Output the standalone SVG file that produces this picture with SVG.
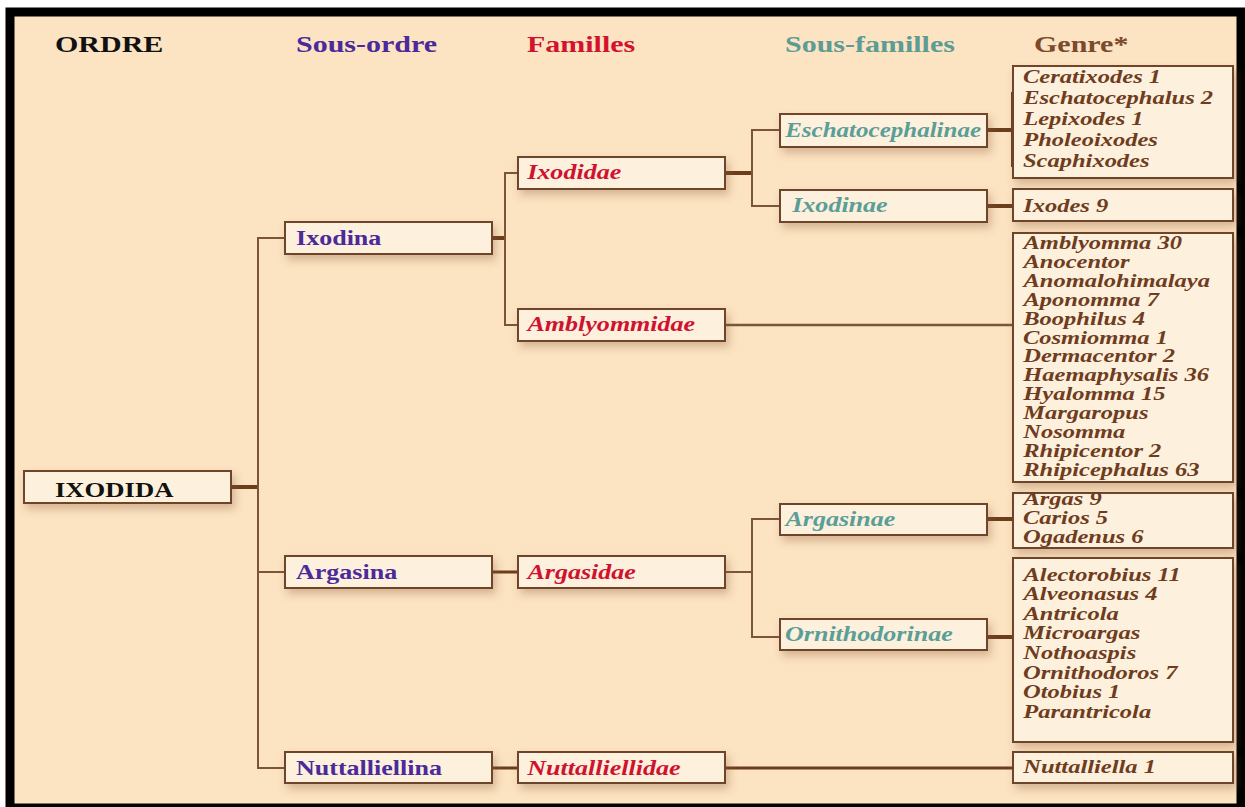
<svg xmlns="http://www.w3.org/2000/svg" width="1245" height="807" viewBox="0 0 1245 807">
<defs>
<filter id="sh" x="-10%" y="-30%" width="125%" height="180%">
<feDropShadow dx="3" dy="5" stdDeviation="4" flood-color="#8a5a30" flood-opacity="0.35"/>
</filter>
</defs>
<style>
text{font-family:"Liberation Serif","Times New Roman",serif;font-weight:bold;transform-box:fill-box;transform-origin:0 50%;transform:scaleX(1.25)}
.box{fill:#fdf0dc;stroke:#6e4529;stroke-width:2;filter:url(#sh)}
.thin{stroke:#7b5536;stroke-width:2;fill:none}
.thick{stroke:#6b3d1c;stroke-width:4;fill:none}
.hd{font-size:24px}
.n{font-size:20.5px;transform:scaleX(1.27)}
.ord{fill:#111}
.so{fill:#4b2a9b}
.fa{fill:#cf1230;font-style:italic}
.sf{fill:#5b9e97;font-style:italic}
.ge{fill:#6e3c1e;font-style:italic;font-size:19px;transform:scaleX(1.29)}
</style>
<rect x="0" y="0" width="1245" height="807" fill="#ffffff"/>
<rect x="10" y="12" width="1231" height="796" fill="#fce3c2" stroke="#000" stroke-width="9"/>

<g id="headers">
<text class="hd ord" x="55" y="52">ORDRE</text>
<text class="hd so" x="296" y="52">Sous-ordre</text>
<text class="hd" x="527" y="52" fill="#d2122e">Familles</text>
<text class="hd" x="785" y="52" fill="#5c9c94">Sous-familles</text>
<text class="hd" x="1034" y="52" fill="#7b4a2c">Genre*</text>
</g>

<g id="connectors">
<line class="thick" x1="231" y1="487" x2="258" y2="487"/>
<line class="thin" x1="258" y1="238" x2="258" y2="768"/>
<line class="thin" x1="257" y1="238" x2="285" y2="238"/>
<line class="thin" x1="258" y1="572" x2="285" y2="572"/>
<line class="thin" x1="257" y1="768" x2="285" y2="768"/>
<line class="thick" x1="492" y1="238" x2="505" y2="238"/>
<line class="thin" x1="505" y1="173" x2="505" y2="325"/>
<line class="thin" x1="504" y1="173" x2="518" y2="173"/>
<line class="thin" x1="504" y1="325" x2="518" y2="325"/>
<line class="thick" x1="725" y1="173" x2="752" y2="173"/>
<line class="thin" x1="752" y1="130" x2="752" y2="206"/>
<line class="thin" x1="751" y1="130" x2="780" y2="130"/>
<line class="thin" x1="751" y1="206" x2="780" y2="206"/>
<line class="thick" x1="987" y1="130" x2="1013" y2="130"/>
<line class="thick" x1="1013" y1="92" x2="1013" y2="167"/>
<line class="thick" x1="987" y1="206" x2="1013" y2="206"/>
<line class="thin" x1="725" y1="325" x2="1013" y2="325" style="stroke-width:2.5"/>
<line class="thick" x1="492" y1="572" x2="518" y2="572" style="stroke-width:3"/>
<line class="thin" x1="725" y1="572" x2="752" y2="572"/>
<line class="thin" x1="752" y1="519" x2="752" y2="637"/>
<line class="thin" x1="751" y1="519" x2="780" y2="519"/>
<line class="thin" x1="751" y1="637" x2="780" y2="637"/>
<line class="thick" x1="987" y1="519" x2="1013" y2="519"/>
<line class="thick" x1="987" y1="637" x2="1013" y2="637"/>
<line class="thick" x1="492" y1="768" x2="518" y2="768" style="stroke-width:3"/>
<line class="thick" x1="725" y1="768" x2="1013" y2="768" style="stroke-width:3"/>
</g>

<g id="n-ixodida"><rect class="box" x="24" y="471" width="207" height="32"/><text class="n ord" x="55" y="497" style="transform:scaleX(1.3)">IXODIDA</text></g>

<g id="n-ixodina"><rect class="box" x="285" y="222" width="207" height="32"/><text class="n so" x="296" y="245">Ixodina</text></g>
<g id="n-argasina"><rect class="box" x="285" y="556" width="207" height="32"/><text class="n so" x="296" y="579">Argasina</text></g>
<g id="n-nuttalliellina"><rect class="box" x="285" y="752" width="207" height="31"/><text class="n so" x="296" y="775">Nuttalliellina</text></g>

<g id="n-ixodidae"><rect class="box" x="518" y="157" width="207" height="32"/><text class="n fa" x="527" y="179">Ixodidae</text></g>
<g id="n-amblyommidae"><rect class="box" x="518" y="309" width="207" height="32"/><text class="n fa" x="527" y="331">Amblyommidae</text></g>
<g id="n-argasidae"><rect class="box" x="518" y="556" width="207" height="32"/><text class="n fa" x="527" y="579">Argasidae</text></g>
<g id="n-nuttalliellidae"><rect class="box" x="518" y="752" width="207" height="31"/><text class="n fa" x="527" y="775">Nuttalliellidae</text></g>

<g id="n-eschatocephalinae"><rect class="box" x="780" y="114" width="207" height="33"/><text class="n sf" x="785" y="137" style="transform:scaleX(1.22)">Eschatocephalinae</text></g>
<g id="n-ixodinae"><rect class="box" x="780" y="190" width="207" height="32"/><text class="n sf" x="792" y="212">Ixodinae</text></g>
<g id="n-argasinae"><rect class="box" x="780" y="504" width="207" height="31"/><text class="n sf" x="785" y="526">Argasinae</text></g>
<g id="n-ornithodorinae"><rect class="box" x="780" y="619" width="207" height="31"/><text class="n sf" x="785" y="641">Ornithodorinae</text></g>

<g id="g-eschato"><rect class="box" x="1013" y="66" width="220" height="112"/>
<text class="ge" x="1023" y="83">Ceratixodes 1</text>
<text class="ge" x="1023" y="104">Eschatocephalus 2</text>
<text class="ge" x="1023" y="125">Lepixodes 1</text>
<text class="ge" x="1023" y="146">Pholeoixodes</text>
<text class="ge" x="1023" y="167">Scaphixodes</text>
</g>
<g id="g-ixodes"><rect class="box" x="1013" y="189" width="220" height="32"/>
<text class="ge" x="1023" y="212">Ixodes 9</text>
</g>
<g id="g-amblyomma"><rect class="box" x="1013" y="233" width="220" height="249"/>
<text class="ge" x="1023" y="249">Amblyomma 30</text>
<text class="ge" x="1023" y="268">Anocentor</text>
<text class="ge" x="1023" y="287">Anomalohimalaya</text>
<text class="ge" x="1023" y="306">Aponomma 7</text>
<text class="ge" x="1023" y="325">Boophilus 4</text>
<text class="ge" x="1023" y="344">Cosmiomma 1</text>
<text class="ge" x="1023" y="362">Dermacentor 2</text>
<text class="ge" x="1023" y="381">Haemaphysalis 36</text>
<text class="ge" x="1023" y="400">Hyalomma 15</text>
<text class="ge" x="1023" y="419">Margaropus</text>
<text class="ge" x="1023" y="438">Nosomma</text>
<text class="ge" x="1023" y="457">Rhipicentor 2</text>
<text class="ge" x="1023" y="476">Rhipicephalus 63</text>
</g>
<g id="g-argas"><rect class="box" x="1013" y="493" width="220" height="55"/>
<text class="ge" x="1023" y="505">Argas 9</text>
<text class="ge" x="1023" y="524">Carios 5</text>
<text class="ge" x="1023" y="543">Ogadenus 6</text>
</g>
<g id="g-ornithodoros"><rect class="box" x="1013" y="558" width="220" height="184"/>
<text class="ge" x="1023" y="581">Alectorobius 11</text>
<text class="ge" x="1023" y="600">Alveonasus 4</text>
<text class="ge" x="1023" y="620">Antricola</text>
<text class="ge" x="1023" y="639">Microargas</text>
<text class="ge" x="1023" y="659">Nothoaspis</text>
<text class="ge" x="1023" y="679">Ornithodoros 7</text>
<text class="ge" x="1023" y="698">Otobius 1</text>
<text class="ge" x="1023" y="718">Parantricola</text>
</g>
<g id="g-nuttalliella"><rect class="box" x="1013" y="752" width="220" height="31"/>
<text class="ge" x="1023" y="773">Nuttalliella 1</text>
</g>
</svg>
